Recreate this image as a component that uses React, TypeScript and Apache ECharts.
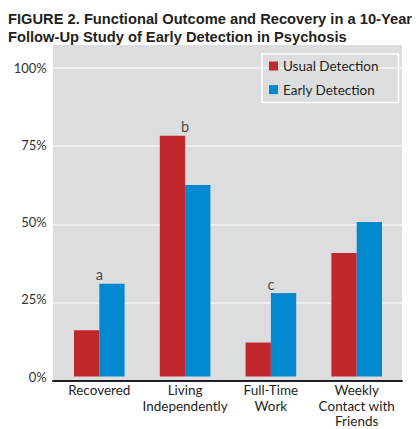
import React, { useEffect, useRef } from "react";
import * as echarts from "echarts";

const categories = ["Recovered", "Living\nIndependently", "Full-Time\nWork", "Weekly\nContact with\nFriends"];
const usualDetection = [15, 78, 11, 40];
const earlyDetection = [30, 62, 27, 50];
const annotationLetters = ["a", "b", "c", ""];
const yTicks = [0, 25, 50, 75, 100];
const titleLines = [
  "FIGURE 2. Functional Outcome and Recovery in a 10-Year",
  "Follow-Up Study of Early Detection in Psychosis",
];

const RED = "#c0282c";
const BLUE = "#0288cf";
const FONT = "Lato, 'Open Sans', sans-serif";
const TITLE_FONT = "'Liberation Sans', Arial, sans-serif";

export default function App() {
  const ref = useRef<HTMLDivElement>(null);
  useEffect(() => {
    if (!ref.current) return;
    const chart = echarts.init(ref.current, null, { renderer: "svg" });
    const annData = annotationLetters.map((l, i) => ({
      value: [i, Math.max(usualDetection[i], earlyDetection[i])],
      letter: l,
    }));
    chart.setOption({
      animation: false,
      backgroundColor: "#ffffff",
      textStyle: { fontFamily: FONT },
      title: titleLines.map((t, i) => ({
        text: t,
        left: 8,
        top: 10.2 + i * 18,
        padding: 0,
        textStyle: {
          fontFamily: TITLE_FONT,
          fontWeight: "bold",
          fontSize: 14.7,
          lineHeight: 17,
          color: "#231f20",
        },
      })),
      graphic: [
        {
          type: "rect",
          z: -10,
          silent: true,
          shape: { x: 53, y: 45, width: 349, height: 336 },
          style: { fill: "#dcdddf" },
        },
      ],
      legend: {
        data: ["Usual Detection", "Early Detection"],
        orient: "vertical",
        left: 262,
        top: 54,
        padding: [5, 20, 6, 7],
        itemWidth: 9,
        itemHeight: 9,
        itemGap: 9.6,
        icon: "rect",
        borderColor: "#ffffff",
        borderWidth: 1.5,
        textStyle: { fontFamily: FONT, fontSize: 13.5, color: "#231f20", lineHeight: 14 },
        selectedMode: false,
      },
      grid: [
        { left: 56.4, right: 20.4, top: 67.7, bottom: 48, containLabel: false },
        { left: 53, right: 18, top: 67.7, bottom: 48, containLabel: false },
      ],
      xAxis: [
        {
          type: "category",
          gridIndex: 0,
          data: categories,
          axisLine: { show: false },
          axisTick: { show: false },
          axisLabel: {
            fontFamily: FONT,
            fontSize: 13.5,
            lineHeight: 15.5,
            color: "#231f20",
            margin: 6,
            interval: 0,
          },
        },
        {
          type: "value",
          gridIndex: 1,
          min: 0,
          max: 1,
          axisLine: { show: true, lineStyle: { color: "#231f20", width: 2 } },
          axisTick: { show: false },
          axisLabel: { show: false },
          splitLine: { show: false },
          z: 5,
        },
      ],
      yAxis: [
        {
          type: "value",
          gridIndex: 0,
          min: yTicks[0],
          max: yTicks[yTicks.length - 1],
          interval: 25,
          axisLine: { show: false },
          axisTick: { show: false },
          splitLine: { show: false },
          axisLabel: {
            formatter: "{value}%",
            fontFamily: FONT,
            fontSize: 13,
            color: "#333333",
            margin: 9.7,
          },
        },
        {
          type: "value",
          gridIndex: 1,
          min: yTicks[0],
          max: yTicks[yTicks.length - 1],
          interval: 25,
          axisLine: { show: false },
          axisTick: { show: false },
          axisLabel: { show: false },
          splitLine: { show: true, lineStyle: { color: "#f4f4f5", width: 1.5 } },
        },
      ],
      series: [
        {
          name: "Usual Detection",
          type: "bar",
          xAxisIndex: 0,
          yAxisIndex: 0,
          data: usualDetection,
          barWidth: 25.3,
          barGap: "0%",
          itemStyle: { color: RED },
          silent: true,
          z: 3,
        },
        {
          name: "Early Detection",
          type: "bar",
          xAxisIndex: 0,
          yAxisIndex: 0,
          data: earlyDetection,
          barWidth: 25.3,
          barGap: "0%",
          itemStyle: { color: BLUE },
          silent: true,
          z: 3,
        },
        {
          name: "annotations",
          type: "scatter",
          xAxisIndex: 0,
          yAxisIndex: 0,
          data: annData,
          symbolSize: 0,
          silent: true,
          label: {
            show: true,
            position: "top",
            distance: 1,
            formatter: (p: any) => p.data.letter,
            fontFamily: FONT,
            fontSize: 14.5,
            lineHeight: 16,
            color: "#231f20",
          },
        },
      ],
    });
    return () => chart.dispose();
  }, []);
  return (
    <div
      ref={ref}
      style={{ position: "fixed", left: 0, top: 0, width: 420, height: 429 }}
    />
  );
}
